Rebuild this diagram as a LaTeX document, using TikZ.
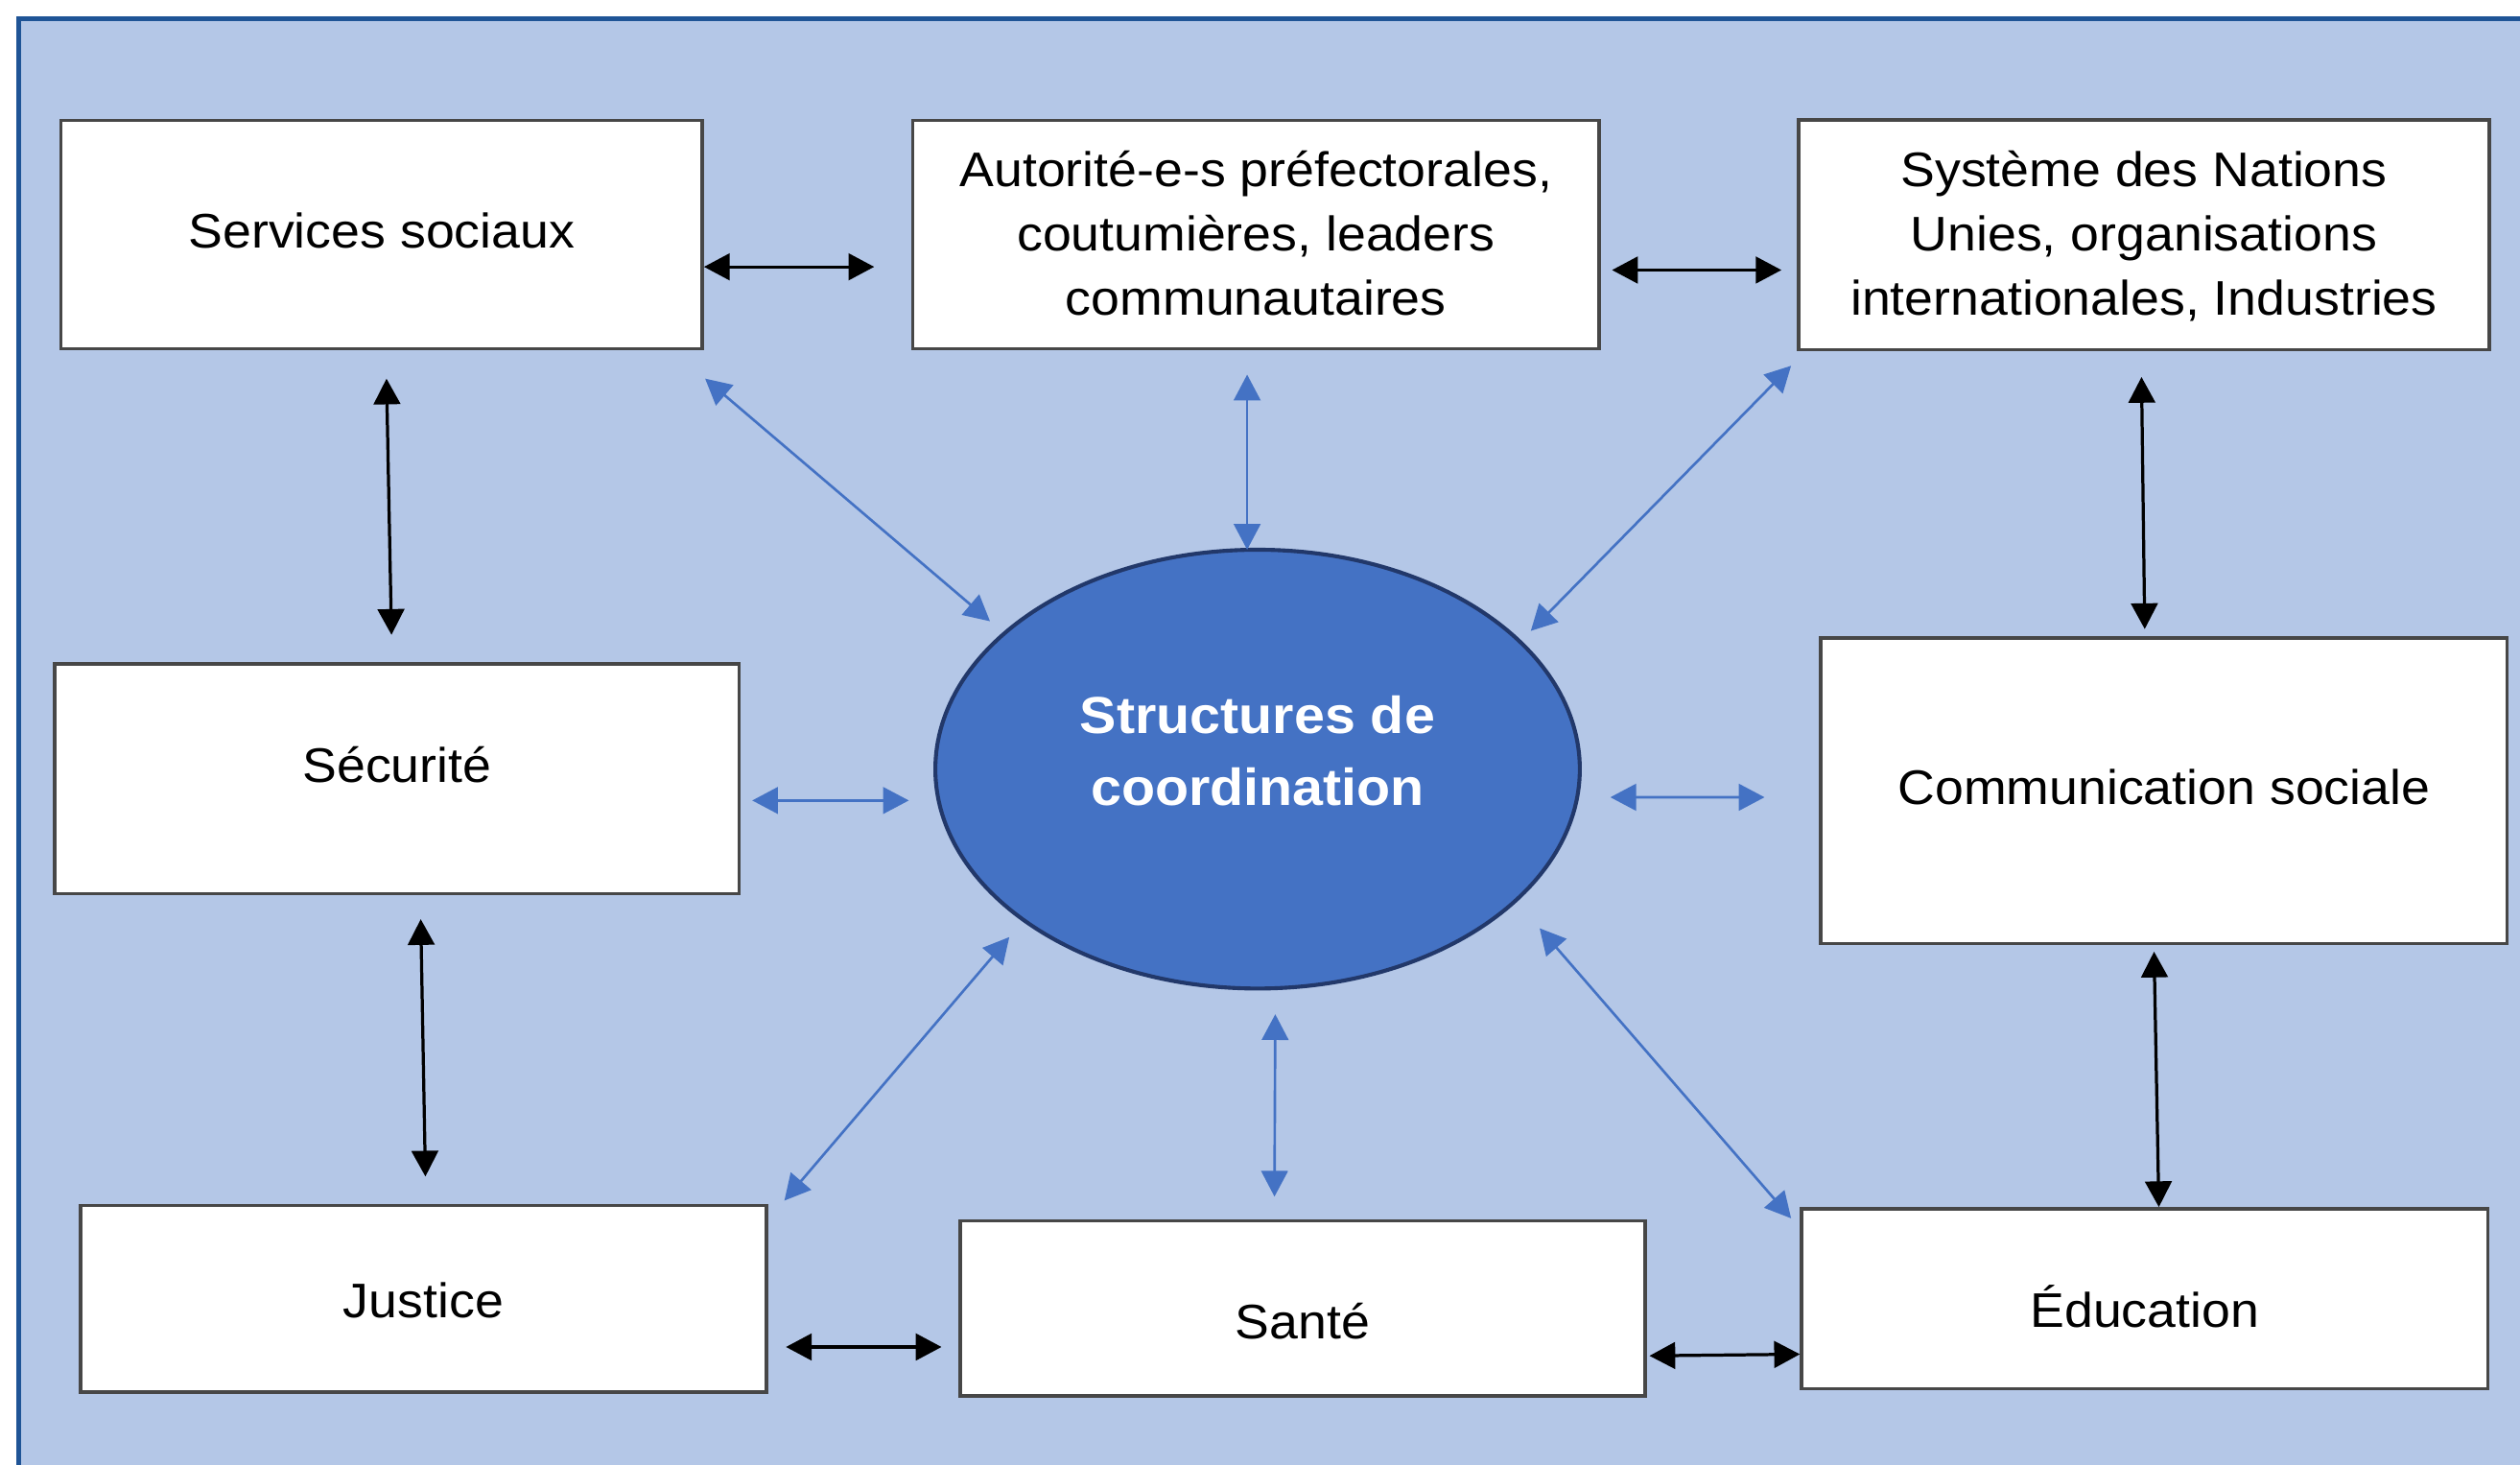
\documentclass[tikz,border=0pt]{standalone}
\usepackage{fontspec}
\setmainfont{Liberation Sans}[FakeStretch=1.06]
\usetikzlibrary{arrows.meta,calc}
\definecolor{bgblue}{HTML}{B4C7E7}
\definecolor{framblue}{HTML}{1F5496}
\definecolor{ellblue}{HTML}{4472C4}
\definecolor{elldraw}{HTML}{22386A}
\begin{document}
\begin{tikzpicture}[x=0.1mm,y=-0.1mm,
  box/.style={draw=black!72, line width=0.6pt, fill=white, inner sep=0pt},
  lbl/.style={inner sep=0pt, align=center, font=\fontsize{8.6}{11.4}\selectfont},
  ctxt/.style={inner sep=0pt, align=center, text=white, font=\fontsize{9.2}{12.8}\selectfont\bfseries},
  barrow/.style={{Triangle[length=1.6mm,width=1.65mm]}-{Triangle[length=1.6mm,width=1.65mm]}, line width=0.55pt, black},
  blarrow/.style={{Triangle[length=1.6mm,width=1.65mm]}-{Triangle[length=1.6mm,width=1.65mm]}, line width=0.45pt, ellblue},
]
\useasboundingbox (0,0) rectangle (1568,911);
\clip (0,0) rectangle (1568,911);
\fill[white] (0,0) rectangle (1568,911);
\draw[framblue, line width=0.9pt, fill=bgblue] (11.5,11.5) rectangle (1620,960);

% boxes
\node[box, minimum width=39.9mm, minimum height=14.2mm] (sersoc) at (237.5,146) {};
\node[box, minimum width=42.7mm, minimum height=14.2mm] (autor) at (781.5,146) {};
\node[box, minimum width=43.0mm, minimum height=14.3mm] (syst) at (1334,146) {};
\node[box, minimum width=42.6mm, minimum height=14.3mm] (secu) at (247,484.5) {};
\node[box, minimum width=42.7mm, minimum height=19.0mm] (comm) at (1346.5,492) {};
\node[box, minimum width=42.7mm, minimum height=11.6mm] (justice) at (263.5,808) {};
\node[box, minimum width=42.6mm, minimum height=10.9mm] (sante) at (810.5,814) {};
\node[box, minimum width=42.7mm, minimum height=11.2mm] (educ) at (1334.5,808) {};

% central ellipse
\draw[fill=ellblue, draw=elldraw, line width=0.7pt] (782.5,478.5) ellipse [x radius=200.5, y radius=136.5];
\coordinate (ell) at (782.5,478.5);

% labels
\node[lbl, anchor=base] (tsersoc) at (237.5,154.5) {Services sociaux};
\node[lbl] (tautor) at (781.5,145) {Autorité-e-s préfectorales,\\coutumières, leaders\\communautaires};
\node[lbl] (tsyst) at (1334,147) {Système des Nations\\Unies, organisations\\internationales, Industries};
\node[lbl, anchor=base] (tsecu) at (247,486.5) {Sécurité};
\node[lbl, anchor=base] (tcomm) at (1346.5,500.5) {Communication sociale};
\node[lbl, anchor=base] (tjustice) at (263.5,820) {Justice};
\node[lbl, anchor=base] (tsante) at (810.5,833) {Santé};
\node[lbl, anchor=base] (teduc) at (1334.5,826) {Éducation};
\node[ctxt] (tell) at (782.5,467) {Structures de\\coordination};

% black arrows between boxes
\draw[barrow] ($(sersoc.east)+(0,20)$) -- ($(autor.west)+(-23,20)$);
\draw[barrow] ($(autor.east)+(7,22)$) -- ($(syst.west)+(-9.5,22)$);
\draw[barrow] ($(sersoc.south)+(3,17.5)$) -- ($(secu.north)+(-3.4,-17)$);
\draw[barrow] ($(syst.south)+(-1.5,16)$) -- ($(comm.north)+(-12,-4.6)$);
\draw[barrow] ($(secu.south)+(14.8,14.8)$) -- ($(justice.north)+(1.2,-17)$);
\draw[barrow] ($(comm.south)+(-6.2,4)$) -- ($(educ.north)+(8.8,0)$);
\draw[barrow] ($(justice.east)+(11,30)$) -- ($(sante.west)+(-10.6,24)$);
\draw[barrow] ($(sante.east)+(1.8,29.5)$) -- ($(educ.west)+(0,34.5)$);

% blue arrows to the centre
\draw[blarrow] ($(sersoc.south east)+(0.7,17.5)$) -- ($(ell)+(-166.5,-92)$);
\draw[blarrow] ($(autor.south)+(-5.5,15)$) -- ($(ell)+(-6.5,-136.5)$);
\draw[blarrow] ($(syst.south west)+(-3.5,9)$) -- ($(ell)+(170,-86)$);
\draw[blarrow] ($(secu.east)+(7,13.5)$) -- ($(ell)+(-217,19.5)$);
\draw[blarrow] ($(ell)+(219.5,17.5)$) -- ($(comm.west)+(-34,4)$);
\draw[blarrow] ($(justice.north east)+(10,-2)$) -- ($(ell)+(-154.5,104.5)$);
\draw[blarrow] ($(sante.north)+(-17.5,-14)$) -- ($(ell)+(11,152.5)$);
\draw[blarrow] ($(educ.north west)+(-5.5,7)$) -- ($(ell)+(175.5,99)$);
\end{tikzpicture}
\end{document}
